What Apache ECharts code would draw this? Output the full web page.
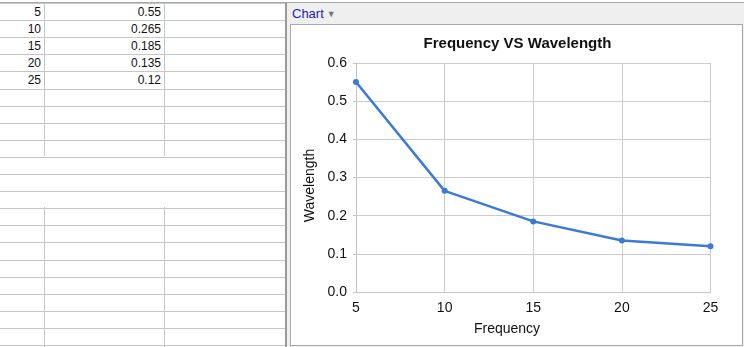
<!DOCTYPE html>
<html>
<head>
<meta charset="utf-8">
<script src="https://cdn.jsdelivr.net/npm/echarts@6/dist/echarts.min.js"></script>
<style>
  html, body { margin: 0; padding: 0; width: 744px; height: 347px; overflow: hidden; background: #fff; font-family: "Liberation Sans", Arial, sans-serif; }
  #sheet { position: absolute; left: 0; top: 0; width: 286px; height: 347px; }
  .hline { position: absolute; left: 0; width: 285px; height: 1px; background: #c6c6c6; }
  .vline { position: absolute; width: 1px; background: #c6c6c6; }
  .cell { position: absolute; font-size: 12px; color: #111; text-align: right; line-height: 17px; height: 17px; }
  #topline { position: absolute; left: 0; top: 2px; width: 744px; height: 1px; background: #a8a8a8; }
  #sheetEdge { position: absolute; left: 285px; top: 3px; width: 2px; height: 344px; background: #9a9a9a; }
  #panel { position: absolute; left: 287px; top: 3px; width: 457px; height: 344px; background: #efefef; }
  #panelLabel { position: absolute; left: 292px; top: 6px; font-size: 13px; color: #2323b4; }
  #panelLabel span { color: #777; font-size: 9px; margin-left: 3px; position: relative; top: -1px; }
  #chartBox { position: absolute; left: 290px; top: 24px; width: 451px; height: 320px; background: #fff; border: 1px solid #a8a8a8; }
  #chart { position: absolute; left: 0; top: 0; width: 744px; height: 347px; }
</style>
</head>
<body>
<div id="sheet"></div>
<div id="topline"></div>
<div id="sheetEdge"></div>
<div id="panel"></div>
<div id="panelLabel">Chart<span>&#9660;</span></div>
<div id="chartBox"></div>
<div id="chart"></div>
<script>
// Measurements: frequency against wavelength
const frequency = [5, 10, 15, 20, 25];
const wavelength = [0.55, 0.265, 0.185, 0.135, 0.12];
const wavelengthText = ['0.55', '0.265', '0.185', '0.135', '0.12'];

// Spreadsheet rows and columns beside the chart
const sheet = document.getElementById('sheet');
const rowTop = 3, rowH = 17.1;
for (let i = 0; i <= 20; i++) {
  const d = document.createElement('div');
  d.className = 'hline';
  d.style.top = Math.round(rowTop + i * rowH) + 'px';
  sheet.appendChild(d);
}
// column separators, absent over the merged rows
[44, 164].forEach(function (x) {
  [[3, 156], [207, 347]].forEach(function (seg) {
    const v = document.createElement('div');
    v.className = 'vline';
    v.style.left = x + 'px';
    v.style.top = seg[0] + 'px';
    v.style.height = (seg[1] - seg[0]) + 'px';
    sheet.appendChild(v);
  });
});
frequency.forEach(function (f, i) {
  const top = Math.round(rowTop + i * rowH) + 1;
  const a = document.createElement('div');
  a.className = 'cell';
  a.style.left = '0px'; a.style.width = '41px'; a.style.top = top + 'px';
  a.textContent = String(f);
  sheet.appendChild(a);
  const b = document.createElement('div');
  b.className = 'cell';
  b.style.left = '50px'; b.style.width = '111px'; b.style.top = top + 'px';
  b.textContent = wavelengthText[i];
  sheet.appendChild(b);
});

const chart = echarts.init(document.getElementById('chart'), null, { renderer: 'canvas' });
const fontFamily = '"Liberation Sans", Arial, sans-serif';
chart.setOption({
  backgroundColor: 'transparent',
  animation: false,
  grid: { left: 356, right: 33.5, top: 63, bottom: 55 },
  xAxis: {
    type: 'value', min: 5, max: 25, interval: 5,
    axisLine: { show: true, lineStyle: { color: '#c4c4c4', width: 1 } },
    axisTick: { show: false },
    splitLine: { show: true, lineStyle: { color: '#cccccc', width: 1 } },
    axisLabel: { color: '#111', fontSize: 14, fontFamily: fontFamily, margin: 9 }
  },
  yAxis: {
    type: 'value', min: 0, max: 0.6, interval: 0.1,
    axisLine: { show: true, lineStyle: { color: '#c4c4c4', width: 1 } },
    axisTick: { show: true, length: 3, lineStyle: { color: '#c4c4c4' } },
    splitLine: { show: true, lineStyle: { color: '#cccccc', width: 1 } },
    axisLabel: { color: '#111', fontSize: 14, fontFamily: fontFamily, margin: 9,
      formatter: function (v) { return v.toFixed(1); } }
  },
  graphic: [
    { type: 'text', x: 517.5, y: 43.5, style: { text: 'Frequency VS Wavelength', fill: '#111',
      font: 'bold 15px ' + fontFamily, textAlign: 'center', textVerticalAlign: 'middle' } },
    { type: 'text', x: 507, y: 329, style: { text: 'Frequency', fill: '#111',
      font: '14px ' + fontFamily, textAlign: 'center', textVerticalAlign: 'middle' } },
    { type: 'text', x: 310, y: 185.5, rotation: Math.PI / 2, style: { text: 'Wavelength', fill: '#111',
      font: '14px ' + fontFamily, textAlign: 'center', textVerticalAlign: 'middle' } }
  ],
  series: [{
    type: 'line',
    data: frequency.map(function (f, i) { return [f, wavelength[i]]; }),
    lineStyle: { color: '#3d79d9', width: 2.5 },
    itemStyle: { color: '#3d79d9' },
    symbol: 'circle', symbolSize: 6,
    smooth: false
  }]
});
</script>
</body>
</html>
